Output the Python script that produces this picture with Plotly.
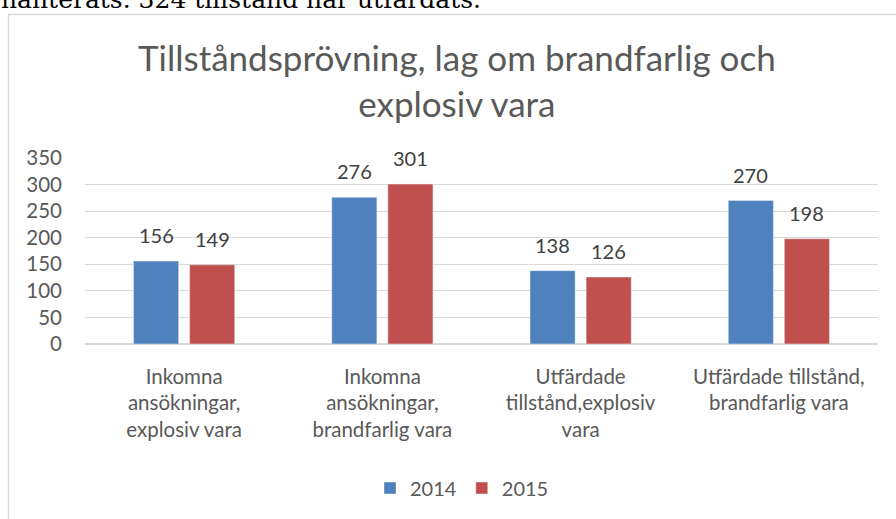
import plotly.graph_objects as go

categories = [
    "Inkomna<br>ansökningar,<br>explosiv vara",
    "Inkomna<br>ansökningar,<br>brandfarlig vara",
    "Utfärdade<br>tillstånd,explosiv<br>vara",
    "Utfärdade tillstånd,<br>brandfarlig vara",
]
values_2014 = [156, 276, 138, 270]
values_2015 = [149, 301, 126, 198]
series_names = ["2014", "2015"]
y_ticks = [0, 50, 100, 150, 200, 250, 300, 350]

FONT = "Lato, Open Sans, sans-serif"
W, H = 896, 519
# plot area in page pixels: x 85..878, y 158..344
L, T = 85, 158
R, B = W - 878, H - 344
pw, ph = W - L - R, H - T - B

def px(x):
    return (x - L) / pw

def py(y):
    return (H - B - y) / ph

fig = go.Figure()
fig.add_bar(x=categories, y=values_2014, name=series_names[0], marker_color="#4f81bd")
fig.add_bar(x=categories, y=values_2015, name=series_names[1], marker_color="#c0504d")

annotations = [
    dict(text="Tillståndsprövning, lag om brandfarlig och<br>explosiv vara", xref="paper", yref="paper",
         x=px(457), y=py(80), xanchor="center", yanchor="middle", showarrow=False,
         font=dict(size=35, color="#595959", family=FONT)),
    dict(text="hanterats. 324 tillstånd har utfärdats.", xref="paper", yref="paper",
         x=px(-1), y=py(16), xanchor="left", yanchor="bottom", showarrow=False,
         font=dict(size=25, color="#000000", family="DejaVu Serif, Liberation Serif, serif")),
]
for vals, shift in ((values_2014, -28), (values_2015, 28)):
    for c, v in zip(categories, vals):
        annotations.append(dict(x=c, y=v, xref="x", yref="y", text=str(v), showarrow=False,
                                xshift=shift, yshift=12, yanchor="bottom",
                                font=dict(size=20, color="#404040", family=FONT)))

fig.update_layout(
    width=W, height=H,
    margin=dict(l=L, r=R, t=T, b=B),
    paper_bgcolor="white", plot_bgcolor="white",
    barmode="group", bargap=0.434, bargroupgap=0.196,
    font=dict(family=FONT, color="#595959", size=20),
    showlegend=True,
    legend=dict(orientation="h", x=px(462), xanchor="center", y=py(488), yanchor="middle",
                font=dict(size=20, color="#595959"), itemwidth=30, traceorder="normal"),
    shapes=[dict(type="rect", xref="paper", yref="paper",
                 x0=px(8.5), x1=px(920), y0=py(540), y1=py(14.5),
                 line=dict(color="#d9d9d9", width=1.5), fillcolor="rgba(0,0,0,0)", layer="below")],
    annotations=annotations,
)
fig.update_yaxes(range=[0, 350], tickvals=y_ticks, showgrid=True, gridcolor="#d9d9d9", gridwidth=1,
                 zeroline=True, zerolinecolor="#d9d9d9", showline=False, ticks="",
                 tickfont=dict(size=20.5, color="#595959"), ticklabelstandoff=22)
fig.update_xaxes(showline=False, ticks="", tickfont=dict(size=20.5, color="#595959"),
                 ticklabelstandoff=18)

fig.write_html("out.html", config={"displayModeBar": False},
               post_script="document.body.style.margin='0';")
